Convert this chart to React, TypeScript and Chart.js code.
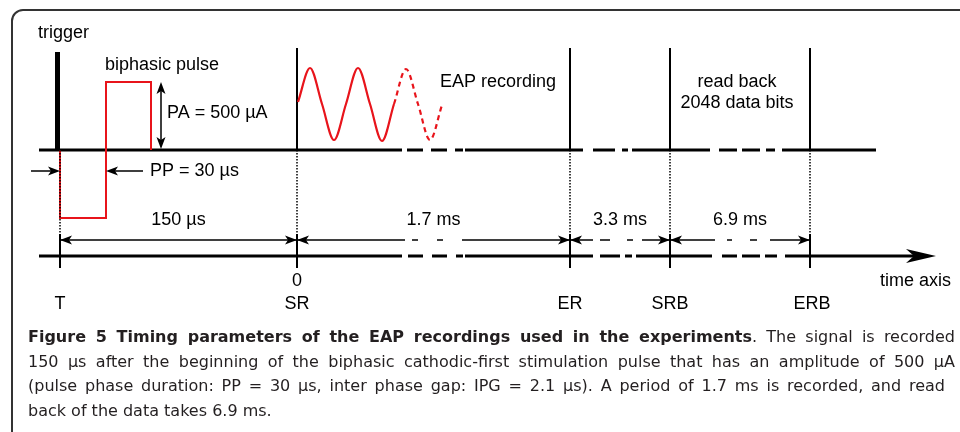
import React, { useEffect, useRef } from 'react';
import { Chart, registerables } from 'chart.js';

Chart.register(...registerables);

// ---------- data (schematic diagram units) ----------
const EVENT_NAMES = ['T', 'SR', 'ER', 'SRB', 'ERB'];
const EVENT_X = [60, 297, 570, 670, 810];
const ZERO_LABEL = '0';

const INTERVAL_LABELS = ['150 µs', '1.7 ms', '3.3 ms', '6.9 ms'];
const INTERVAL_FROM = [60, 297, 570, 670];
const INTERVAL_TO = [297, 570, 670, 810];
const INTERVAL_SEGMENTS = [
  [[60, 297]],
  [[297, 405], [412, 418], [437, 443], [462, 570]],
  [[570, 593], [600, 610], [627, 633], [642, 670]],
  [[670, 715], [727, 732], [750, 757], [770, 810]],
];

const SIGNAL_SEGMENTS = [
  [39, 402], [407, 423], [431, 447], [455, 463], [465, 583], [593, 615],
  [622, 628], [632, 710], [719, 737], [742, 760], [766, 775], [782, 876],
];
const AXIS_SEGMENTS = [
  [39, 402], [408, 423], [432, 447], [456, 463], [465, 593], [600, 620],
  [625, 632], [636, 712], [722, 737], [742, 760], [765, 777], [785, 922],
];
const AXIS_END = 936;

const PULSE_X = [60, 60, 106, 106, 151, 151];
const PULSE_Y = [150, 218, 218, 82, 82, 150];

const SINE_SOLID_X = [298, 310, 322, 334, 346, 358, 370, 382, 394];
const SINE_SOLID_Y = [102, 68, 104, 140, 104, 68, 104, 141, 104];
const SINE_DASH_X = [394, 406, 418, 430, 442];
const SINE_DASH_Y = [104, 69, 104, 140, 105];

const TEXT_TRIGGER = 'trigger';
const TEXT_PULSE = 'biphasic pulse';
const TEXT_PA = 'PA = 500 µA';
const TEXT_PP = 'PP = 30 µs';
const TEXT_EAP = 'EAP recording';
const TEXT_READ = ['read back', '2048 data bits'];
const TEXT_AXIS = 'time axis';

const CAPTION_TITLE = 'Figure 5 Timing parameters of the EAP recordings used in the experiments';
const CAPTION_LINES = [
  '. The signal is recorded',
  '150 µs after the beginning of the biphasic cathodic-first stimulation pulse that has an amplitude of 500 µA',
  '(pulse phase duration: PP = 30 µs, inter phase gap: IPG = 2.1 µs). A period of 1.7 ms is recorded, and read',
  'back of the data takes 6.9 ms.',
];

// ---------- layout levels ----------
const SIGNAL_Y = 150;
const AXIS_Y = 256;
const INTERVAL_Y = 240;
const PP_Y = 171;
const TOP_Y = 48;
const TICK_TOP = 234;
const TICK_BOTTOM = 268;

type P = { x: number; y: number | null };

const hSegs = (segs: number[][], y: number): P[] => {
  const out: P[] = [];
  segs.forEach(([a, b]) => {
    out.push({ x: a, y }, { x: b, y }, { x: b, y: null });
  });
  return out;
};
const vSegs = (xs: number[], y0: number, y1: number): P[] => {
  const out: P[] = [];
  xs.forEach((x) => {
    out.push({ x, y: y0 }, { x, y: y1 }, { x, y: null });
  });
  return out;
};
const zip = (xs: number[], ys: number[]): P[] => xs.map((x, i) => ({ x, y: ys[i] }));

const base = {
  borderColor: '#000',
  borderWidth: 2,
  pointRadius: 0,
  fill: false,
  tension: 0,
  spanGaps: false,
  borderCapStyle: 'butt' as const,
  clip: false as const,
  order: 2,
};

const FONT = '18px "Liberation Sans", Arial, sans-serif';

const diagramPlugin = {
  id: 'diagramExtras',
  afterDatasetsDraw(chart: any) {
    const { ctx } = chart;
    const sx = chart.scales.x;
    const sy = chart.scales.y;
    const px = (v: number) => sx.getPixelForValue(v);
    const py = (v: number) => sy.getPixelForValue(v);
    ctx.save();
    ctx.fillStyle = '#000';

    const head = (vx: number, vy: number, ang: number, len = 12, half = 4.5, notch = 3) => {
      ctx.save();
      ctx.translate(px(vx), py(vy));
      ctx.rotate(ang);
      ctx.beginPath();
      ctx.moveTo(0, 0);
      ctx.lineTo(-len, -half);
      ctx.lineTo(-len + notch, 0);
      ctx.lineTo(-len, half);
      ctx.closePath();
      ctx.fill();
      ctx.restore();
    };
    const R = 0, L = Math.PI, U = -Math.PI / 2, D = Math.PI / 2;

    // interval arrows
    INTERVAL_FROM.forEach((f, i) => {
      head(f, INTERVAL_Y, L);
      head(INTERVAL_TO[i], INTERVAL_Y, R);
    });
    // PP arrows
    head(PULSE_X[0], PP_Y, R);
    head(PULSE_X[2], PP_Y, L);
    // PA arrow
    head(161, PULSE_Y[3], U);
    head(161, SIGNAL_Y - 1, D);
    // time axis arrow
    head(AXIS_END, AXIS_Y, R, 30, 7, 8);

    // texts
    ctx.font = FONT;
    ctx.textBaseline = 'middle';
    ctx.textAlign = 'left';
    ctx.fillText(TEXT_TRIGGER, px(38), py(33));
    ctx.fillText(TEXT_PULSE, px(105), py(65));
    ctx.fillText(TEXT_PA, px(167), py(113));
    ctx.fillText(TEXT_PP, px(150), py(PP_Y));
    ctx.fillText(TEXT_EAP, px(440), py(82));
    ctx.fillText(TEXT_AXIS, px(880), py(281));
    ctx.textAlign = 'center';
    ctx.fillText(TEXT_READ[0], px(737), py(82));
    ctx.fillText(TEXT_READ[1], px(737), py(103));
    INTERVAL_LABELS.forEach((t, i) => {
      ctx.fillText(t, px((INTERVAL_FROM[i] + INTERVAL_TO[i]) / 2), py(220));
    });
    ctx.fillText(ZERO_LABEL, px(EVENT_X[1]), py(281));
    EVENT_NAMES.forEach((n, i) => {
      ctx.fillText(n, px(EVENT_X[i] + (i === 4 ? 2 : 0)), py(304));
    });
    ctx.restore();
  },
};

export default function App() {
  const ref = useRef<HTMLCanvasElement | null>(null);

  useEffect(() => {
    if (!ref.current) return;
    const intervalData: P[] = [];
    INTERVAL_SEGMENTS.forEach((s) => intervalData.push(...hSegs(s, INTERVAL_Y)));

    const chart = new Chart(ref.current, {
      type: 'line',
      data: {
        datasets: [
          { ...base, label: 'signal baseline', data: hSegs(SIGNAL_SEGMENTS, SIGNAL_Y), borderWidth: 3 },
          { ...base, label: 'time axis', data: hSegs(AXIS_SEGMENTS, AXIS_Y), borderWidth: 3 },
          { ...base, label: 'event markers', data: vSegs(EVENT_X.slice(1), TOP_Y, SIGNAL_Y), borderWidth: 2 },
          { ...base, label: 'ticks', data: vSegs(EVENT_X, TICK_TOP, TICK_BOTTOM), borderWidth: 2 },
          { ...base, label: 'trigger', data: vSegs([EVENT_X[0] - 2.5], 52, SIGNAL_Y), borderWidth: 5 },
          {
            ...base, label: 'dotted', data: vSegs(EVENT_X, SIGNAL_Y, TICK_TOP),
            borderWidth: 1.5, borderDash: [1.5, 1.5], order: 0,
          },
          { ...base, label: 'intervals', data: intervalData, borderWidth: 1.5 },
          {
            ...base, label: 'pp arrows',
            data: [...hSegs([[31, PULSE_X[0] - 4]], PP_Y), ...hSegs([[PULSE_X[2] + 4, 143]], PP_Y)],
            borderWidth: 1.5,
          },
          { ...base, label: 'pa arrow', data: vSegs([161], PULSE_Y[3] + 4, SIGNAL_Y - 5), borderWidth: 1.5 },
          {
            ...base, label: 'pulse', data: zip(PULSE_X, PULSE_Y),
            borderColor: '#e8141b', borderWidth: 2, borderJoinStyle: 'miter' as const, order: 1,
          },
          {
            ...base, label: 'EAP', data: zip(SINE_SOLID_X, SINE_SOLID_Y),
            borderColor: '#e8141b', borderWidth: 2.2, cubicInterpolationMode: 'monotone' as const, order: 1,
          },
          {
            ...base, label: 'EAP (cont.)', data: zip(SINE_DASH_X, SINE_DASH_Y),
            borderColor: '#e8141b', borderWidth: 2.2, borderDash: [5, 4],
            cubicInterpolationMode: 'monotone' as const, order: 1,
          },
        ],
      },
      options: {
        responsive: false,
        animation: false,
        events: [],
        layout: { padding: 0 },
        plugins: { legend: { display: false }, tooltip: { enabled: false } },
        scales: {
          x: { type: 'linear', min: 0, max: 960, display: false },
          y: { type: 'linear', min: 0, max: 432, reverse: true, display: false },
        },
      },
      plugins: [diagramPlugin],
    } as any);
    return () => chart.destroy();
  }, []);

  const capFont = '16px "DejaVu Sans", sans-serif';
  const lineStyle = (w: number, justify: boolean): React.CSSProperties => ({
    width: w,
    whiteSpace: 'nowrap',
    textAlign: justify ? 'justify' : 'left',
    textAlignLast: justify ? 'justify' : 'left',
  } as React.CSSProperties);

  return (
    <div style={{ position: 'absolute', left: 0, top: 0, width: 960, height: 432, overflow: 'hidden', background: '#fff' }}>
      <canvas ref={ref} width={960} height={432} style={{ position: 'absolute', left: 0, top: 0, display: 'block' }} />
      <div
        style={{
          position: 'absolute', left: 11, top: 9, width: 1000, height: 500,
          border: '2px solid #333', borderRadius: 12, pointerEvents: 'none',
        }}
      />
      <div style={{ position: 'absolute', left: 28, top: 325, font: capFont, lineHeight: '24.5px', color: '#231f20' }}>
        <div style={lineStyle(927, true)}>
          <b>{CAPTION_TITLE}</b>{CAPTION_LINES[0]}
        </div>
        <div style={lineStyle(927, true)}>{CAPTION_LINES[1]}</div>
        <div style={lineStyle(917, true)}>{CAPTION_LINES[2]}</div>
        <div style={lineStyle(400, false)}>{CAPTION_LINES[3]}</div>
      </div>
    </div>
  );
}
